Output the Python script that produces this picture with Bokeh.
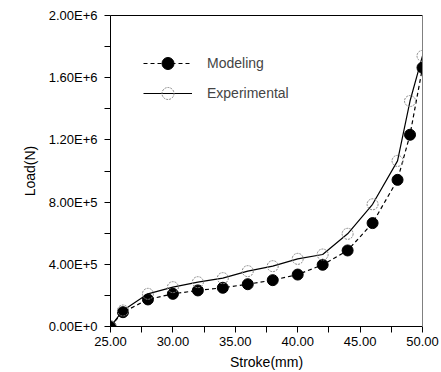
from bokeh.plotting import figure
from bokeh.models import (FixedTicker, Range1d, Legend, LegendItem, ColumnDataSource,
                          LinearAxis)
from bokeh.embed import file_html
from bokeh.resources import INLINE

stroke = [25, 26, 28, 30, 32, 34, 36, 38, 40, 42, 44, 46, 48, 49, 50]
modeling = [0, 9.2e4, 1.74e5, 2.10e5, 2.32e5, 2.49e5, 2.72e5, 2.98e5, 3.34e5,
            3.97e5, 4.89e5, 6.65e5, 9.43e5, 1.233e6, 1.665e6]
experimental = [0, 1.03e5, 2.10e5, 2.53e5, 2.85e5, 3.11e5, 3.56e5, 3.88e5, 4.35e5,
                4.63e5, 5.96e5, 7.86e5, 1.065e6, 1.45e6, 1.74e6]

x_ticks = [25, 30, 35, 40, 45, 50]
x_tick_labels = ["25.00", "30.00", "35.00", "40.00", "45.00", "50.00"]
x_minor = [27.5, 32.5, 37.5, 42.5, 47.5]
y_ticks = [0, 4e5, 8e5, 1.2e6, 1.6e6, 2e6]
y_tick_labels = ["0.00E+0", "4.00E+5", "8.00E+5", "1.20E+6", "1.60E+6", "2.00E+6"]
y_minor = [2e5, 6e5, 1e6, 1.4e6, 1.8e6]

FONT = "Liberation Sans"

p = figure(width=441, height=372, output_backend="svg", toolbar_location=None,
           x_range=Range1d(x_ticks[0], x_ticks[-1]), y_range=Range1d(y_ticks[0], y_ticks[-1]),
           min_border_left=110, min_border_right=19, min_border_top=15,
           min_border_bottom=46)
p.background_fill_color = "white"
p.border_fill_color = "white"
p.grid.visible = False
p.outline_line_color = None

src = ColumnDataSource(dict(x=stroke, m=modeling, e=experimental))

r_ml = p.line("x", "m", source=src, line_color="black", line_width=1.2, line_dash="4 3")
r_ms = p.scatter("x", "m", source=src, size=11, fill_color="black", line_color="black")
r_el = p.line("x", "e", source=src, line_color="black", line_width=1.2)
r_es = p.scatter("x", "e", source=src, size=11, fill_color=None, line_color="#888888",
                 line_width=1, line_dash="2 1")

for ax, ticks, labels, minor in ((p.xaxis[0], x_ticks, x_tick_labels, x_minor),
                                 (p.yaxis[0], y_ticks, y_tick_labels, y_minor)):
    ax.ticker = FixedTicker(ticks=ticks, minor_ticks=minor)
    ax.major_label_overrides = {t: l for t, l in zip(ticks, labels)}
    ax.major_tick_out = 6
    ax.major_tick_in = 0
    ax.minor_tick_out = 6
    ax.minor_tick_in = 0
    ax.axis_line_color = "black"
    ax.major_tick_line_color = "black"
    ax.minor_tick_line_color = "black"
    ax.major_label_text_font = FONT
    ax.major_label_text_font_size = "13px"
    ax.major_label_text_color = "black"
    ax.axis_label_text_font = FONT
    ax.axis_label_text_font_size = "14px"
    ax.axis_label_text_font_style = "normal"
    ax.axis_label_text_color = "black"

p.xaxis.axis_label = "Stroke(mm)"
p.yaxis.axis_label = "Load(N)"
p.xaxis.major_label_standoff = 4
p.xaxis.axis_label_standoff = 5
p.yaxis.major_label_standoff = 7
p.yaxis.axis_label_standoff = 8

# plain top and right frame lines
for side, col in (("above", "black"), ("right", "#808080")):
    a = LinearAxis(ticker=FixedTicker(ticks=[]), major_tick_out=0, major_tick_in=0,
                   minor_tick_out=0, minor_tick_in=0, major_label_standoff=0,
                   major_label_text_font_size="0px", axis_line_color=col)
    p.add_layout(a, side)

legend = Legend(items=[LegendItem(label="Modeling", renderers=[r_ml, r_ms]),
                       LegendItem(label="Experimental", renderers=[r_el, r_es])],
                location="top_left", margin=33, padding=0, spacing=0,
                glyph_width=49, glyph_height=30, label_standoff=15,
                label_text_font=FONT, label_text_font_size="14px",
                border_line_color=None, background_fill_alpha=0)
p.add_layout(legend)

open("out.html", "w").write(file_html(p, INLINE))
